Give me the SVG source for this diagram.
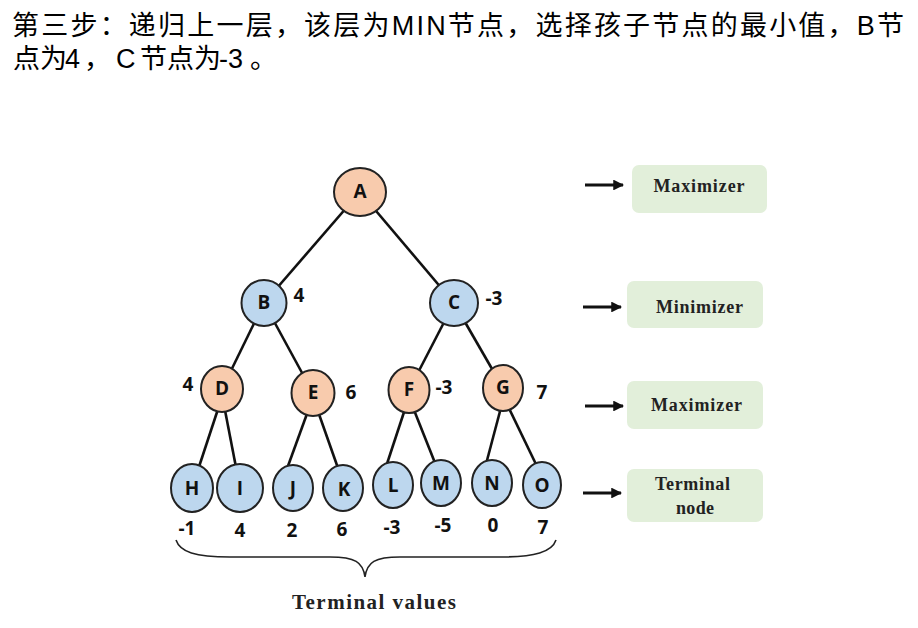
<svg xmlns="http://www.w3.org/2000/svg" width="918" height="628" viewBox="0 0 918 628">
<style>
.title{font-family:"Liberation Sans","Noto Sans CJK SC",sans-serif;font-size:27px;fill:#000}
.max{fill:#f8cbad;stroke:#222;stroke-width:2}
.min{fill:#bdd7ee;stroke:#222;stroke-width:2}
.lbl{font-family:"Open Sans","Liberation Sans",sans-serif;font-weight:bold;font-size:19px;fill:#111;text-anchor:middle}
.val{font-family:"Open Sans","Liberation Sans",sans-serif;font-weight:bold;font-size:19px;fill:#111;text-anchor:middle}
.edge{stroke:#111;stroke-width:2.6;fill:none}
.box{fill:#e2efda}
.btxt{font-family:"Liberation Serif",serif;font-weight:bold;font-size:18px;fill:#222;text-anchor:middle}
.arrow{stroke:#111;stroke-width:3;fill:none}
</style>
<defs>
<marker id="ah" viewBox="0 0 10 10" refX="9" refY="5" markerWidth="3.6" markerHeight="3.6" orient="auto" markerUnits="strokeWidth">
<path d="M0,0 L10,5 L0,10 z" fill="#111"/>
</marker>
</defs>
<rect width="918" height="628" fill="#fff"/>
<text class="title" x="12" y="35" textLength="892" lengthAdjust="spacing">第三步：递归上一层，该层为MIN节点，选择孩子节点的最小值，B节</text>
<text class="title" x="13 40 65 84 116 140 167 194 219 228 250" y="68">点为4，C节点为-3。</text>

<g id="connectors">
<line class="edge" x1="360" y1="192" x2="264" y2="303"/>
<line class="edge" x1="360" y1="192" x2="454" y2="303"/>
<line class="edge" x1="264" y1="303" x2="222" y2="389"/>
<line class="edge" x1="264" y1="303" x2="313" y2="393"/>
<line class="edge" x1="454" y1="303" x2="409" y2="390"/>
<line class="edge" x1="454" y1="303" x2="503" y2="388"/>
<line class="edge" x1="221" y1="400" x2="192" y2="488"/>
<line class="edge" x1="223" y1="400" x2="240" y2="488"/>
<line class="edge" x1="312" y1="400" x2="280" y2="488"/>
<line class="edge" x1="314" y1="400" x2="345" y2="488"/>
<line class="edge" x1="408" y1="400" x2="380" y2="485"/>
<line class="edge" x1="410" y1="400" x2="443" y2="483"/>
<line class="edge" x1="503" y1="400" x2="481" y2="483"/>
<line class="edge" x1="505" y1="400" x2="546" y2="485"/>
<line class="arrow" x1="585" y1="185" x2="623" y2="185" marker-end="url(#ah)"/>
<line class="arrow" x1="583" y1="307" x2="621" y2="307" marker-end="url(#ah)"/>
<line class="arrow" x1="585" y1="406" x2="623" y2="406" marker-end="url(#ah)"/>
<line class="arrow" x1="583" y1="493" x2="621" y2="493" marker-end="url(#ah)"/>
<path d="M176,540 C180,552 195,557 230,557 L330,557 C355,557 363,562 365,577 C367,562 375,557 400,557 L500,557 C535,557 552,552 556,540" stroke="#222" stroke-width="1.6" fill="none"/>
</g>

<g id="A"><ellipse class="max" cx="360" cy="192" rx="26" ry="24"/><text class="lbl" x="360" y="198">A</text></g>
<g id="B"><ellipse class="min" cx="264" cy="303" rx="22.5" ry="23"/><text class="lbl" x="264" y="309">B</text><text class="val" x="299" y="302">4</text></g>
<g id="C"><ellipse class="min" cx="454" cy="303" rx="24" ry="23"/><text class="lbl" x="454" y="309">C</text><text class="val" x="494" y="305">-3</text></g>
<g id="D"><ellipse class="max" cx="222" cy="389" rx="21" ry="23"/><text class="lbl" x="222" y="395">D</text><text class="val" x="188" y="391">4</text></g>
<g id="E"><ellipse class="max" cx="313" cy="393" rx="21.5" ry="23"/><text class="lbl" x="313" y="399">E</text><text class="val" x="351" y="399">6</text></g>
<g id="F"><ellipse class="max" cx="409" cy="390" rx="20.5" ry="23"/><text class="lbl" x="409" y="396">F</text><text class="val" x="444" y="394">-3</text></g>
<g id="G"><ellipse class="max" cx="503" cy="388" rx="20" ry="23"/><text class="lbl" x="503" y="394">G</text><text class="val" x="542" y="399">7</text></g>

<g id="H"><ellipse class="min" cx="192" cy="488" rx="21" ry="24"/><text class="lbl" x="192" y="495">H</text><text class="val" x="187" y="535">-1</text></g>
<g id="I"><ellipse class="min" cx="240" cy="488" rx="23" ry="24"/><text class="lbl" x="240" y="495">I</text><text class="val" x="240" y="537">4</text></g>
<g id="J"><ellipse class="min" cx="293" cy="488" rx="20" ry="23"/><text class="lbl" x="293" y="495">J</text><text class="val" x="292" y="537">2</text></g>
<g id="K"><ellipse class="min" cx="343" cy="488" rx="20" ry="23"/><text class="lbl" x="344" y="496">K</text><text class="val" x="342" y="536">6</text></g>
<g id="L"><ellipse class="min" cx="393" cy="485" rx="20" ry="23"/><text class="lbl" x="393" y="492">L</text><text class="val" x="392" y="534">-3</text></g>
<g id="M"><ellipse class="min" cx="441" cy="483" rx="20" ry="23"/><text class="lbl" x="441" y="490">M</text><text class="val" x="443" y="532">-5</text></g>
<g id="N"><ellipse class="min" cx="492" cy="483" rx="20" ry="23"/><text class="lbl" x="492" y="490">N</text><text class="val" x="493" y="532">0</text></g>
<g id="O"><ellipse class="min" cx="542" cy="485" rx="19" ry="23"/><text class="lbl" x="542" y="492">O</text><text class="val" x="543" y="534">7</text></g>

<text x="374" y="609" font-family="Liberation Serif, serif" font-weight="bold" font-size="21" fill="#222" text-anchor="middle" textLength="164" lengthAdjust="spacing">Terminal values</text>

<g id="box-max1"><rect class="box" x="632" y="165" width="135" height="48" rx="7"/><text class="btxt" x="699" y="192" textLength="91" lengthAdjust="spacing">Maximizer</text></g>
<g id="box-min"><rect class="box" x="627" y="281" width="136" height="47" rx="7"/><text class="btxt" x="699.5" y="313" textLength="87" lengthAdjust="spacing">Minimizer</text></g>
<g id="box-max2"><rect class="box" x="627" y="381" width="136" height="48" rx="7"/><text class="btxt" x="696.5" y="411" textLength="91" lengthAdjust="spacing">Maximizer</text></g>
<g id="box-term"><rect class="box" x="627" y="469" width="136" height="53" rx="7"/><text class="btxt" x="692.5" y="490" textLength="75" lengthAdjust="spacing">Terminal</text><text class="btxt" x="695" y="514" textLength="38" lengthAdjust="spacing">node</text></g>
</svg>
